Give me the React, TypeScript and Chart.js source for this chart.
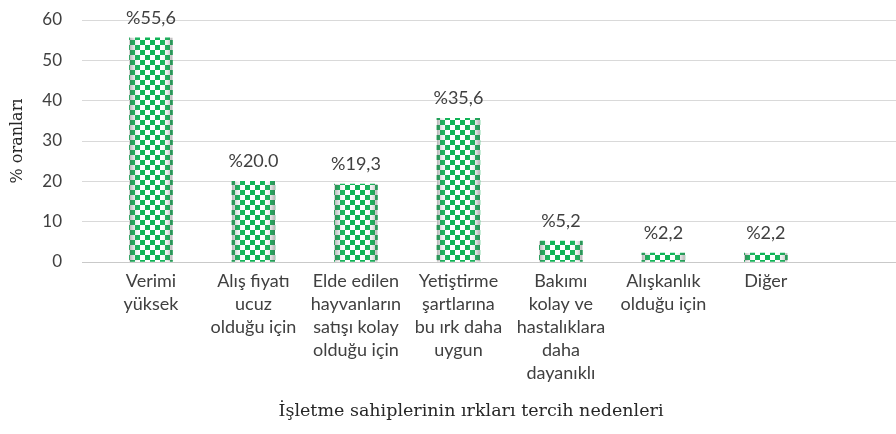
import React, { useEffect, useRef } from "react";
import { Chart, registerables } from "chart.js";

Chart.register(...registerables);

const categories: string[][] = [
  ["Verimi", "yüksek"],
  ["Alış fiyatı", "ucuz", "olduğu için"],
  ["Elde edilen", "hayvanların", "satışı kolay", "olduğu için"],
  ["Yetiştirme", "şartlarına", "bu ırk daha", "uygun"],
  ["Bakımı", "kolay ve", "hastalıklara", "daha", "dayanıklı"],
  ["Alışkanlık", "olduğu için"],
  ["Diğer"],
];
const values: number[] = [55.6, 20.0, 19.3, 35.6, 5.2, 2.2, 2.2];
const valueLabels: string[] = ["%55,6", "%20.0", "%19,3", "%35,6", "%5,2", "%2,2", "%2,2"];
const yTitle = "% oranları";
const xTitle = "İşletme sahiplerinin ırkları tercih nedenleri";

function makePattern(ctx: CanvasRenderingContext2D): CanvasPattern | string {
  const c = document.createElement("canvas");
  const s = 5;
  c.width = s * 2;
  c.height = s * 2;
  const p = c.getContext("2d");
  if (!p) return "#00B050";
  p.fillStyle = "#ffffff";
  p.fillRect(0, 0, s * 2, s * 2);
  p.fillStyle = "#0fb456";
  p.fillRect(0, 0, s, s);
  p.fillRect(s, s, s, s);
  return ctx.createPattern(c, "repeat") || "#00B050";
}

const barDecor = {
  id: "barDecor",
  afterDatasetsDraw(chart: any) {
    const ctx = chart.ctx as CanvasRenderingContext2D;
    const meta = chart.getDatasetMeta(0);
    ctx.save();
    meta.data.forEach((bar: any, i: number) => {
      const { x, y, base, width } = bar.getProps(["x", "y", "base", "width"], true);
      const l = x - width / 2;
      const g = ctx.createLinearGradient(l, 0, l + width, 0);
      g.addColorStop(0, "rgba(90,90,90,0.45)");
      g.addColorStop(0.12, "rgba(120,120,120,0.15)");
      g.addColorStop(0.3, "rgba(255,255,255,0)");
      g.addColorStop(0.7, "rgba(255,255,255,0)");
      g.addColorStop(0.88, "rgba(120,120,120,0.15)");
      g.addColorStop(1, "rgba(90,90,90,0.45)");
      ctx.fillStyle = g;
      ctx.fillRect(l, y, width, base - y);
      ctx.fillStyle = "#404040";
      ctx.font = "18px Lato";
      ctx.textAlign = "center";
      ctx.textBaseline = "alphabetic";
      ctx.fillText(valueLabels[i], x, y - 14);
    });
    ctx.fillStyle = "#262626";
    ctx.font = "17.5px 'DejaVu Serif'";
    ctx.textAlign = "center";
    ctx.textBaseline = "middle";
    ctx.fillText(xTitle, 471, 411);
    ctx.restore();
  },
};

export default function App() {
  const ref = useRef<HTMLCanvasElement>(null);
  useEffect(() => {
    const canvas = ref.current;
    if (!canvas) return;
    const ctx = canvas.getContext("2d")!;
    const pattern = makePattern(ctx);
    const chart = new Chart(canvas, {
      type: "bar",
      data: {
        datasets: [
          {
            data: values.map((v, i) => ({ x: i, y: v })),
            backgroundColor: pattern as any,
            borderWidth: 0,
            barThickness: 43,
          },
        ],
      },
      options: {
        responsive: false,
        animation: false,
        layout: { autoPadding: false, padding: { top: 20, right: 0, bottom: 0, left: 0 } },
        plugins: { legend: { display: false }, tooltip: { enabled: false } },
        scales: {
          x: {
            type: "linear",
            offset: false,
            min: -0.673,
            max: 7.27,
            grid: { display: false, drawTicks: false },
            border: { display: true, color: "#c9c9c9", width: 1 },
            ticks: {
              stepSize: 1,
              includeBounds: false,
              autoSkip: false,
              maxRotation: 0,
              minRotation: 0,
              padding: 8,
              color: "#404040",
              font: { family: "Lato", size: 18, lineHeight: 1.28 },
              callback: (v: any) => {
                const i = Math.round(Number(v));
                return i >= 0 && i < categories.length && Math.abs(i - Number(v)) < 1e-6 ? categories[i] : "";
              },
            } as any,
            afterFit: (s: any) => {
              s.height = 172;
              s.paddingLeft = 0;
              s.paddingRight = 0;
            },
          },
          y: {
            min: 0,
            max: 60,
            ticks: {
              stepSize: 10,
              padding: 20,
              color: "#404040",
              font: { family: "Lato", size: 17 },
            },
            grid: { color: "#d9d9d9", drawTicks: false },
            border: { display: false },
            title: {
              display: true,
              text: yTitle,
              color: "#262626",
              font: { family: "DejaVu Serif", size: 16 },
              padding: { top: 8, bottom: 0 },
            },
            afterFit: (s: any) => {
              s.width = 82;
              s.paddingTop = 0;
              s.paddingBottom = 0;
            },
          },
        },
      },
      plugins: [barDecor],
    });
    return () => chart.destroy();
  }, []);
  return (
    <div style={{ position: "fixed", left: 0, top: 0, width: 896, height: 434, background: "#fff" }}>
      <canvas ref={ref} width={896} height={434} />
    </div>
  );
}
